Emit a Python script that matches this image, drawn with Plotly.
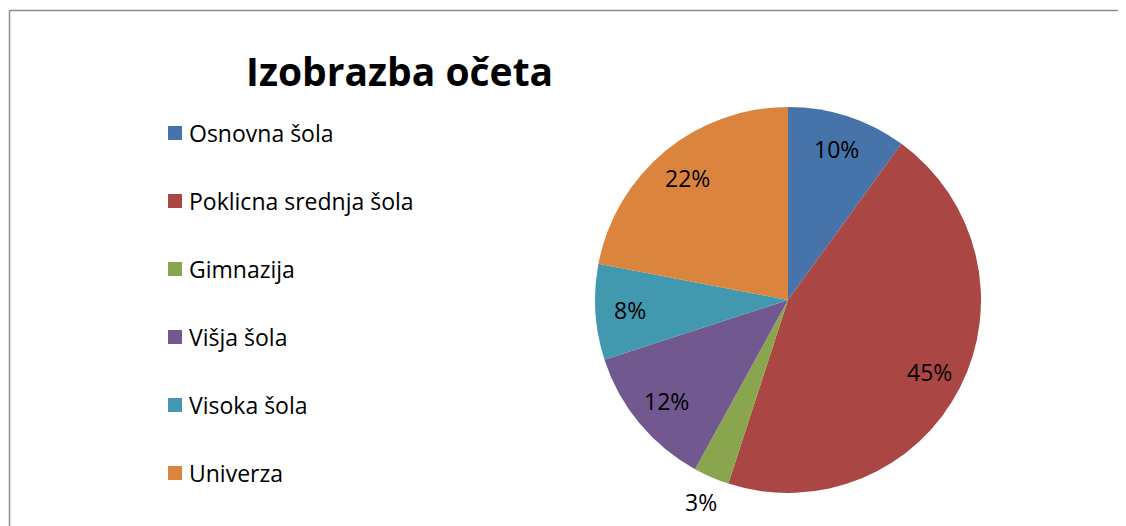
import math
import plotly.graph_objects as go

categories = ["Osnovna šola", "Poklicna srednja šola", "Gimnazija", "Višja šola", "Visoka šola", "Univerza"]
values = [10, 45, 3, 12, 8, 22]
colors = ["#4674AA", "#AA4643", "#89A54E", "#71588F", "#4198AF", "#DB843D"]
label_outside = [False, False, True, False, False, False]
title_text = "Izobrazba očeta"

W, H = 1126, 526
OFF = 8  # page body margin in the browser
FONT = "Open Sans"


def px(x):
    return (x - OFF) / W


def py(y):
    return 1 - (y - OFF) / H


fig = go.Figure()

cx, cy, r = 788, 300, 193
fig.add_trace(go.Pie(
    labels=categories,
    values=values,
    marker=dict(colors=colors, line=dict(width=0)),
    sort=False,
    direction="clockwise",
    rotation=0,
    textinfo="none",
    showlegend=False,
    hoverinfo="label+percent",
    domain=dict(x=[px(cx - r), px(cx + r)], y=[py(cy + r), py(cy - r)]),
))

annotations = []
shapes = []

# percentage labels placed Excel-style along each slice's mid-angle
total = sum(values)
cum = 0
for v, outside in zip(values, label_outside):
    mid = (cum + v / 2) / total * 2 * math.pi
    cum += v
    rr = r * (1.14 if outside else 0.82)
    lx = cx + rr * math.sin(mid)
    ly = cy - rr * math.cos(mid)
    annotations.append(dict(text=f"{round(v / total * 100)}%", xref="paper", yref="paper",
                            x=px(lx), y=py(ly), xanchor="center", yanchor="middle", showarrow=False,
                            font=dict(family=FONT, size=23, color="#000000")))

# custom legend (Excel-like spacing)
leg_y0, leg_dy = 133, 68
for i, (cat, col) in enumerate(zip(categories, colors)):
    yc = leg_y0 + i * leg_dy
    shapes.append(dict(type="rect", xref="paper", yref="paper",
                       x0=px(168), x1=px(182), y0=py(yc + 7), y1=py(yc - 7),
                       fillcolor=col, line=dict(width=0)))
    annotations.append(dict(text=cat, xref="paper", yref="paper", x=px(187), y=py(yc),
                            xanchor="left", yanchor="middle", showarrow=False,
                            font=dict(family=FONT, size=23, color="#000000")))

# chart border (top and left visible)
shapes.append(dict(type="line", xref="paper", yref="paper", x0=px(9.5), x1=1.0, y0=py(10.5), y1=py(10.5),
                   line=dict(color="#8C8C8C", width=1.5)))
shapes.append(dict(type="line", xref="paper", yref="paper", x0=px(9.5), x1=px(9.5), y0=0, y1=py(10.5),
                   line=dict(color="#8C8C8C", width=1.5)))

annotations.append(dict(text="<b>" + title_text + "</b>", xref="paper", yref="paper", x=px(399), y=py(70),
                        xanchor="center", yanchor="middle", showarrow=False,
                        font=dict(family=FONT, size=39, color="#000000")))

fig.update_layout(
    width=W, height=H,
    margin=dict(l=0, r=0, t=0, b=0),
    paper_bgcolor="#FFFFFF",
    plot_bgcolor="#FFFFFF",
    shapes=shapes,
    annotations=annotations,
)

fig.write_html("out.html")
